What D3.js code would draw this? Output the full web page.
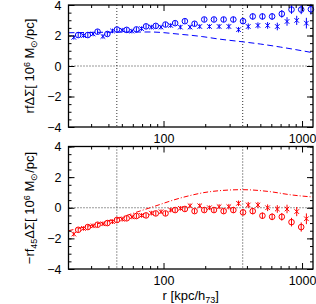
<!DOCTYPE html>
<html>
<head>
<meta charset="utf-8">
<script src="https://cdn.jsdelivr.net/npm/d3@7"></script>
<style>
body { margin: 0; background: #fff; }
text { font-family: "Liberation Sans", Arial, sans-serif; }
</style>
</head>
<body>
<div id="chart-container"></div>
<script>
// two stacked panels, shared log x axis
const svgWidth = 316;
const svgHeight = 304;

// radial bins (kpc/h73) for circles, crosses sit a bit to the left
const rCircle = [24.2, 28.4, 33.4, 39.3, 46.1, 54.2, 63.7, 74.8, 87.9, 103.3, 121.3, 142.6, 167.5, 196.8, 231.2, 271.6, 319.2, 375, 440.6, 517.6, 608.1, 714.5, 839.5, 986.3, 1159];
const rCross = [22.5, 26.4, 31.0, 36.5, 42.8, 50.3, 59.1, 69.4, 81.6, 95.9, 112.6, 132.3, 155.4, 182.6, 214.5, 252.0, 296.2, 348.0, 408.9, 480.3, 564.3, 663.0, 779.1, 915.3, 1075];
const errBar = [0.15, 0.15, 0.15, 0.15, 0.15, 0.15, 0.15, 0.15, 0.15, 0.15, 0.15, 0.15, 0.15, 0.15, 0.15, 0.16, 0.18, 0.18, 0.2, 0.2, 0.22, 0.25, 0.28, 0.3, 0.35];

// top panel: r f DeltaSigma
const topCircle = [2.03, 2.03, 2.25, 2.1, 2.39, 2.37, 2.4, 2.6, 2.63, 2.72, 2.81, 2.94, 2.77, 3.05, 3.05, 3.05, 3.05, 2.94, 3.25, 3.25, 3.25, 3.42, 3.7, 3.7, 3.72];
const topCross = [1.88, 2.0, 2.1, 1.94, 2.3, 2.35, 2.29, 2.45, 2.55, 2.55, 2.66, 2.55, 2.55, 2.59, 2.59, 2.59, 2.59, 2.38, 2.59, 2.66, 2.66, 2.59, 2.92, 2.99, 2.81];
const modelTopR = [20.6, 46, 80, 132, 190, 250, 370, 500, 700, 1000, 1200];
const modelTopV = [2.18, 2.22, 2.23, 2.08, 1.93, 1.77, 1.59, 1.44, 1.24, 1.0, 0.87];

// bottom panel: -r f45 DeltaSigma
const botCircle = [-1.44, -1.26, -1.11, -1.0, -0.8, -0.69, -0.54, -0.5, -0.37, -0.37, -0.15, -0.08, -0.22, -0.15, -0.15, -0.22, -0.15, -0.3, -0.22, -0.52, -0.59, -0.59, -0.94, -1.26, null];
const botCross = [-1.72, -1.35, -1.18, -1.05, -0.91, -0.75, -0.6, -0.5, -0.35, -0.26, -0.15, -0.04, 0.13, 0.13, 0.0, 0.07, 0.07, 0.29, 0.18, 0.18, 0.0, -0.08, -0.08, -0.25, -0.72];
const modelBotR = [20.6, 46, 80, 138, 217, 370, 588, 820, 1200];
const modelBotV = [-1.5, -0.7, 0.0, 0.68, 1.05, 1.18, 1.05, 0.85, 0.7];

const vLines = [46, 373];
const majorX = [100, 1000];
const minorX = [30, 40, 50, 60, 70, 80, 90, 200, 300, 400, 500, 600, 700, 800, 900];
const majorY = [-4, -2, 0, 2, 4];
const minorY = d3.range(-4, 4.01, 0.5);
const yLabels = {4: "4", 2: "2", 0: "0", "-2": "\u22122", "-4": "\u22124"};

const svg = d3.select("#chart-container")
    .append("svg")
    .attr("width", svgWidth)
    .attr("height", svgHeight);

const x = d3.scaleLog().domain([20.6, 1200]).range([68.5, 313]);

const panels = [
    {top: 5, bottom: 127, circ: topCircle, cross: topCross, mR: modelTopR, mV: modelTopV, color: "#0000ff", dash: "6,3.5"},
    {top: 146.5, bottom: 269, circ: botCircle, cross: botCross, mR: modelBotR, mV: modelBotV, color: "#ff0000", dash: "5,2,1,2"}
];

panels.forEach(function (p) {
    const y = d3.scaleLinear().domain([-4, 4]).range([p.bottom, p.top]);
    const g = svg.append("g");

    // dotted guides
    g.append("line")
        .attr("x1", x.range()[0]).attr("x2", x.range()[1])
        .attr("y1", y(0)).attr("y2", y(0))
        .attr("stroke", "#333").attr("stroke-width", 1).attr("stroke-dasharray", "1,2");
    vLines.forEach(function (v) {
        g.append("line")
            .attr("x1", x(v)).attr("x2", x(v))
            .attr("y1", p.top).attr("y2", p.bottom)
            .attr("stroke", "#333").attr("stroke-width", 1).attr("stroke-dasharray", "1,2");
    });

    // model curve
    const line = d3.line().x(d => x(d[0])).y(d => y(d[1])).curve(d3.curveMonotoneX);
    g.append("path")
        .datum(p.mR.map((r, i) => [r, p.mV[i]]))
        .attr("d", line)
        .attr("fill", "none")
        .attr("stroke", p.color)
        .attr("stroke-width", 1)
        .attr("stroke-dasharray", p.dash);

    // crosses with error bars
    const crossData = rCross.map((r, i) => ({r: r, v: p.cross[i], e: errBar[i]})).filter(d => d.v !== null);
    const cg = g.append("g").attr("stroke", p.color).attr("stroke-width", 1).attr("fill", "none");
    crossData.forEach(function (d) {
        const cx = x(d.r), cy = y(d.v), s = 2.3;
        cg.append("path").attr("d", `M${cx - s},${cy - s}L${cx + s},${cy + s}M${cx - s},${cy + s}L${cx + s},${cy - s}`);
        cg.append("line").attr("x1", cx).attr("x2", cx).attr("y1", y(d.v - d.e)).attr("y2", y(d.v + d.e));
    });

    // circles with error bars
    const circData = rCircle.map((r, i) => ({r: r, v: p.circ[i], e: errBar[i]})).filter(d => d.v !== null);
    const og = g.append("g").attr("stroke", p.color).attr("stroke-width", 1).attr("fill", "none");
    og.selectAll("circle").data(circData).join("circle")
        .attr("cx", d => x(d.r)).attr("cy", d => y(d.v)).attr("r", 2.8);
    og.selectAll("line").data(circData).join("line")
        .attr("x1", d => x(d.r)).attr("x2", d => x(d.r))
        .attr("y1", d => y(d.v - d.e)).attr("y2", d => y(d.v + d.e));

    // axes, ticks pointing inward on all four sides
    const ax = svg.append("g").attr("class", "axes");
    ax.append("g").attr("transform", `translate(0,${p.bottom})`)
        .call(d3.axisBottom(x).tickValues(majorX).tickSize(-6).tickSizeOuter(0).tickPadding(7).tickFormat(d3.format("d")));
    ax.append("g").attr("transform", `translate(0,${p.bottom})`)
        .call(d3.axisBottom(x).tickValues(minorX).tickSize(-3).tickSizeOuter(0).tickFormat(""));
    ax.append("g").attr("transform", `translate(0,${p.top})`)
        .call(d3.axisTop(x).tickValues(majorX).tickSize(-6).tickSizeOuter(0).tickFormat(""));
    ax.append("g").attr("transform", `translate(0,${p.top})`)
        .call(d3.axisTop(x).tickValues(minorX).tickSize(-3).tickSizeOuter(0).tickFormat(""));
    ax.append("g").attr("transform", `translate(${x.range()[0]},0)`)
        .call(d3.axisLeft(y).tickValues(majorY).tickSize(-6).tickSizeOuter(0).tickPadding(7).tickFormat(d => yLabels[d]));
    ax.append("g").attr("transform", `translate(${x.range()[0]},0)`)
        .call(d3.axisLeft(y).tickValues(minorY).tickSize(-3).tickSizeOuter(0).tickFormat(""));
    ax.append("g").attr("transform", `translate(${x.range()[1]},0)`)
        .call(d3.axisRight(y).tickValues(majorY).tickSize(-6).tickSizeOuter(0).tickFormat(""));
    ax.append("g").attr("transform", `translate(${x.range()[1]},0)`)
        .call(d3.axisRight(y).tickValues(minorY).tickSize(-3).tickSizeOuter(0).tickFormat(""));
    ax.selectAll("text").attr("font-family", "'Liberation Sans', Arial, sans-serif").attr("font-size", 12.5).attr("fill", "#000");
    ax.selectAll("line").attr("stroke", "#000");
    ax.selectAll(".domain").attr("stroke", "none");

    svg.append("rect")
        .attr("x", x.range()[0]).attr("y", p.top)
        .attr("width", x.range()[1] - x.range()[0]).attr("height", p.bottom - p.top)
        .attr("fill", "none").attr("stroke", "#000").attr("stroke-width", 1.3);
});

// y titles
function yTitle(cy, prefix, sub) {
    const t = svg.append("text")
        .attr("transform", `translate(34,${cy}) rotate(-90)`)
        .attr("text-anchor", "middle")
        .attr("font-size", 13);
    t.append("tspan").text(prefix);
    if (sub) {
        t.append("tspan").attr("dy", 3).attr("font-size", 9).text(sub);
        t.append("tspan").attr("dy", -3).text("\u0394\u03a3[ 10");
    } else {
        t.append("tspan").text("\u0394\u03a3[ 10");
    }
    t.append("tspan").attr("dy", -4.5).attr("font-size", 9).text("6");
    t.append("tspan").attr("dy", 4.5).text(" M");
    t.append("tspan").attr("dy", 3).attr("font-size", 9).text("\u2299");
    t.append("tspan").attr("dy", -3).text("/pc]");
}
yTitle(66, "rf", null);
yTitle(208, "\u2212rf", "45");

// x title
const xt = svg.append("text")
    .attr("x", (x.range()[0] + x.range()[1]) / 2)
    .attr("y", 300)
    .attr("text-anchor", "middle")
    .attr("font-size", 13);
xt.append("tspan").text("r [kpc/h");
xt.append("tspan").attr("dy", 3).attr("font-size", 9).text("73");
xt.append("tspan").attr("dy", -3).text("]");
</script>
</body>
</html>
